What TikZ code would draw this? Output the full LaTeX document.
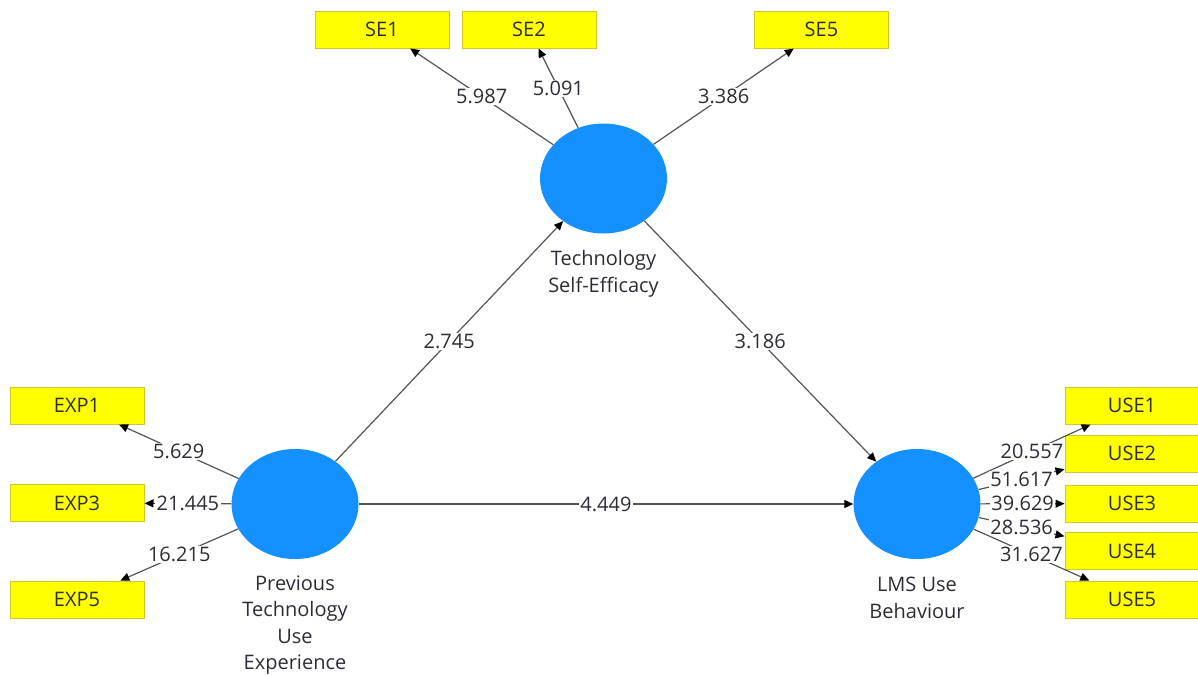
\documentclass[tikz,border=0pt]{standalone}
\usepackage{fontspec}
\setmainfont{Open Sans}
\usetikzlibrary{arrows.meta,shapes.geometric}
\definecolor{latentblue}{RGB}{20,145,255}
\definecolor{itemyellow}{RGB}{255,255,0}
\definecolor{itemborder}{RGB}{205,200,40}
\definecolor{linkgray}{RGB}{85,85,85}
\definecolor{labelgray}{RGB}{45,45,55}
\begin{document}
\begin{tikzpicture}[x=1pt,y=-1pt,
  latent/.style={ellipse, fill=latentblue, draw=none, minimum width=127pt,
    minimum height=110pt, inner sep=0pt},
  indicator/.style={rectangle, fill=itemyellow, draw=itemborder, line width=1pt,
    minimum width=134pt, minimum height=37pt, inner sep=0pt,
    font=\fontsize{20}{22}\selectfont, text=labelgray},
  latentname/.style={align=center, font=\fontsize{20}{26.5}\selectfont, text=labelgray},
  link/.style={draw=linkgray, line width=1.2pt,
    -{Triangle[length=9pt,width=8pt,color=black]}},
  coef/.style={fill=white, inner xsep=1.5pt, inner ysep=1pt,
    font=\fontsize{20}{22}\selectfont, text=labelgray}
]
\useasboundingbox (0,0) rectangle (1198,675);
\fill[white] (0,0) rectangle (1198,675);

% latent constructs
\node[latent] (tse)  at (603.5,178.5) {};
\node[latent] (ptue) at (295,504) {};
\node[latent] (lms)  at (917,504) {};

\node[latentname] (tse-name)  at (603.5,274) {Technology\\Self-Efficacy};
\node[latentname] (ptue-name) at (295,625) {Previous\\Technology\\Use\\Experience};
\node[latentname] (lms-name)  at (917,598) {LMS Use\\Behaviour};

% indicators
\node[indicator] (se1) at (382,29.5) {SE1};
\node[indicator] (se2) at (529,29.5) {SE2};
\node[indicator] (se5) at (821.5,29.5) {SE5};

\node[indicator] (exp1) at (77,405.5) {EXP1};
\node[indicator] (exp3) at (77,503) {EXP3};
\node[indicator] (exp5) at (77,599.5) {EXP5};

\node[indicator] (use1) at (1132,405.5) {USE1};
\node[indicator] (use2) at (1132,453.5) {USE2};
\node[indicator] (use3) at (1132,503.5) {USE3};
\node[indicator] (use4) at (1132,551) {USE4};
\node[indicator] (use5) at (1132,599.5) {USE5};

% structural paths
\draw[link] (ptue) -- (tse) coordinate[pos=0.5] (m-pt);
\draw[link] (tse) -- (lms) coordinate[pos=0.5] (m-tl);
\draw[link] (ptue) -- (lms) coordinate[pos=0.5] (m-pl);

% outer loadings
\draw[link] (tse) -- (se1) coordinate[pos=0.5] (m-se1);
\draw[link] (tse) -- (se2) coordinate[pos=0.5] (m-se2);
\draw[link] (tse) -- (se5) coordinate[pos=0.5] (m-se5);

\draw[link] (ptue) -- (exp1) coordinate[pos=0.5] (m-exp1);
\draw[link] (ptue) -- (exp3) coordinate[pos=0.5] (m-exp3);
\draw[link] (ptue) -- (exp5) coordinate[pos=0.5] (m-exp5);

\draw[link] (lms) -- (use1) coordinate[pos=0.5] (m-use1);
\draw[link] (lms) -- (use2) coordinate[pos=0.5] (m-use2);
\draw[link] (lms) -- (use3) coordinate[pos=0.5] (m-use3);
\draw[link] (lms) -- (use4) coordinate[pos=0.5] (m-use4);
\draw[link] (lms) -- (use5) coordinate[pos=0.5] (m-use5);

% t-values on the paths
\node[coef] (v-pt) at (m-pt) {2.745};
\node[coef] (v-tl) at (m-tl) {3.186};
\node[coef] (v-pl) at (m-pl) {4.449};

\node[coef] (v-se1) at (m-se1) {5.987};
\node[coef] (v-se2) at (m-se2) {5.091};
\node[coef] (v-se5) at (m-se5) {3.386};

\node[coef] (v-exp1) at (m-exp1) {5.629};
\node[coef] (v-exp3) at (m-exp3) {21.445};
\node[coef] (v-exp5) at (m-exp5) {16.215};

\node[coef] (v-use1) at (m-use1) {20.557};
\node[coef] (v-use2) at (m-use2) {51.617};
\node[coef] (v-use3) at (m-use3) {39.629};
\node[coef] (v-use4) at (m-use4) {28.536};
\node[coef] (v-use5) at (m-use5) {31.627};
\end{tikzpicture}
\end{document}
